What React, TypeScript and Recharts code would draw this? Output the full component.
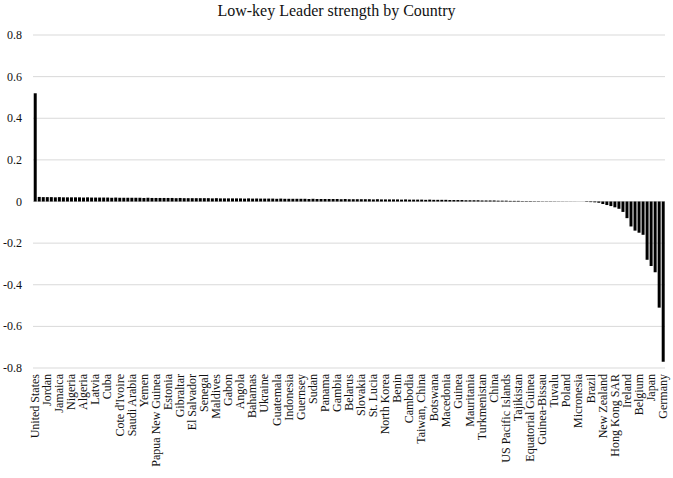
import React from "react";
import { BarChart, Bar, XAxis, YAxis, CartesianGrid } from "recharts";

const chartTitle = "Low-key Leader strength by Country";

// Countries in descending order of score; every third one carries a visible label.
const countries: string[] = [
  "United States", "Canada", "Mexico",
  "Jordan", "Israel", "Lebanon",
  "Jamaica", "Haiti", "Trinidad and Tobago",
  "Nigeria", "Ghana", "Cameroon",
  "Algeria", "Morocco", "Tunisia",
  "Latvia", "Lithuania", "Moldova",
  "Cuba", "Dominican Republic", "Puerto Rico",
  "Cote d'Ivoire", "Liberia", "Sierra Leone",
  "Saudi Arabia", "Kuwait", "Oman",
  "Yemen", "Eritrea", "Djibouti",
  "Papua New Guinea", "Solomon Islands", "Vanuatu",
  "Estonia", "Finland", "Russia",
  "Gibraltar", "Malta", "Andorra",
  "El Salvador", "Honduras", "Nicaragua",
  "Senegal", "Mali", "Burkina Faso",
  "Maldives", "Sri Lanka", "Bhutan",
  "Gabon", "Congo", "Chad",
  "Angola", "Namibia", "Zambia",
  "Bahamas", "Barbados", "Bermuda",
  "Ukraine", "Georgia", "Armenia",
  "Guatemala", "Belize", "Costa Rica",
  "Indonesia", "Philippines", "Malaysia",
  "Guernsey", "Jersey", "Isle of Man",
  "Sudan", "Ethiopia", "Somalia",
  "Panama", "Colombia", "Ecuador",
  "Gambia", "Niger", "Togo",
  "Belarus", "Serbia", "Croatia",
  "Slovakia", "Czech Republic", "Hungary",
  "St. Lucia", "Grenada", "Dominica",
  "North Korea", "South Korea", "Mongolia",
  "Benin", "Uganda", "Kenya",
  "Cambodia", "Laos", "Vietnam",
  "Taiwan, China", "Thailand", "Myanmar",
  "Botswana", "Lesotho", "Swaziland",
  "Macedonia", "Albania", "Bulgaria",
  "Guinea", "Tanzania", "Mozambique",
  "Mauritania", "Burundi", "Malawi",
  "Turkmenistan", "Uzbekistan", "Kazakhstan",
  "China", "Nepal", "India",
  "US Pacific Islands", "Guam", "American Samoa",
  "Tajikistan", "Kyrgyzstan", "Afghanistan",
  "Equatorial Guinea", "Cape Verde", "Sao Tome and Principe",
  "Guinea-Bissau", "Comoros", "Madagascar",
  "Tuvalu", "Kiribati", "Nauru",
  "Poland", "Austria", "Romania",
  "Micronesia", "Palau", "Fiji",
  "Brazil", "Argentina", "Chile",
  "New Zealand", "Australia", "Singapore",
  "Hong Kong SAR", "Macau SAR", "Denmark",
  "Ireland", "Norway", "Netherlands",
  "Belgium", "Sweden", "France",
  "Japan", "Switzerland", "Italy",
  "Germany",
];

const scores: number[] = [
  0.52,
  0.022, 0.021, 0.021, 0.021, 0.02, 0.021, 0.02, 0.02, 0.02, 0.02,
  0.02, 0.019, 0.02, 0.019, 0.019, 0.019, 0.019, 0.019, 0.018, 0.019,
  0.018, 0.018, 0.018, 0.018, 0.018, 0.018, 0.017, 0.018, 0.017, 0.017,
  0.017, 0.017, 0.017, 0.017, 0.016, 0.017, 0.016, 0.016, 0.016, 0.016,
  0.016, 0.016, 0.016, 0.015, 0.016, 0.015, 0.015, 0.015, 0.015, 0.015,
  0.015, 0.014, 0.015, 0.014, 0.014, 0.014, 0.014, 0.014, 0.014, 0.013,
  0.014, 0.013, 0.013, 0.013, 0.013, 0.013, 0.013, 0.012, 0.013, 0.012,
  0.012, 0.012, 0.012, 0.012, 0.012, 0.011, 0.012, 0.011, 0.011, 0.011,
  0.011, 0.011, 0.011, 0.01, 0.011, 0.01, 0.01, 0.01, 0.01, 0.01,
  0.009, 0.01, 0.009, 0.009, 0.009, 0.009, 0.008, 0.009, 0.008, 0.008,
  0.008, 0.008, 0.007, 0.007, 0.007, 0.007, 0.006, 0.006, 0.006, 0.006,
  0.005, 0.005, 0.005, 0.005, 0.004, 0.004, 0.004, 0.003, 0.003, 0.003,
  0.002, 0.002, 0.002, 0.0015, 0.0015, 0.001, 0.001, 0.001, 0.0008, 0.0006,
  0.0005, 0.0004, 0.0003, 0.0002, 0.0001, 0,
  -0.002, -0.003, -0.004, -0.006, -0.012, -0.017, -0.022, -0.028, -0.035, -0.05,
  -0.08, -0.12, -0.14, -0.15, -0.16, -0.28, -0.31, -0.34, -0.51, -0.77,
];

const yTicks: number[] = [-0.8, -0.6, -0.4, -0.2, 0, 0.2, 0.4, 0.6, 0.8];

const data = countries.map((name, i) => ({ name, score: scores[i] }));

const FONT = "'Liberation Serif', 'Times New Roman', serif";

const CountryTick = (props: any) => {
  const { x, y, payload } = props;
  const ty = y - 2;
  return (
    <text
      x={x}
      y={ty}
      transform={`rotate(-90, ${x}, ${ty})`}
      textAnchor="end"
      dominantBaseline="central"
      style={{ fontFamily: FONT, fontSize: 12 }}
      fill="#111"
    >
      {payload.value}
    </text>
  );
};

const ValueTick = (props: any) => {
  const { x, y, payload } = props;
  return (
    <text
      x={x - 3}
      y={y}
      textAnchor="end"
      dominantBaseline="central"
      style={{ fontFamily: FONT, fontSize: 12 }}
      fill="#111"
    >
      {String(Math.round(payload.value * 10) / 10)}
    </text>
  );
};

export default function App() {
  return (
    <div
      style={{
        position: "absolute",
        left: 0,
        top: 0,
        width: 673,
        height: 478,
        background: "#fff",
        fontFamily: FONT,
      }}
    >
      <div
        style={{
          position: "absolute",
          left: 0,
          top: 2,
          width: 673,
          textAlign: "center",
          fontFamily: FONT,
          fontSize: 16,
          color: "#111",
        }}
      >
        {chartTitle}
      </div>
      <BarChart
        width={673}
        height={478}
        data={data}
        margin={{ top: 35, right: 8, bottom: 0, left: 0 }}
        barCategoryGap="18%"
        style={{ fontFamily: FONT }}
      >
        <CartesianGrid vertical={false} stroke="#d9d9d9" />
        <XAxis
          dataKey="name"
          interval={2}
          tick={<CountryTick />}
          tickLine={false}
          axisLine={false}
          height={110}
        />
        <YAxis
          domain={[-0.8, 0.8]}
          ticks={yTicks}
          tick={<ValueTick />}
          tickLine={false}
          axisLine={false}
          width={33}
          allowDataOverflow
        />
        <Bar dataKey="score" fill="#000" isAnimationActive={false} />
      </BarChart>
    </div>
  );
}
